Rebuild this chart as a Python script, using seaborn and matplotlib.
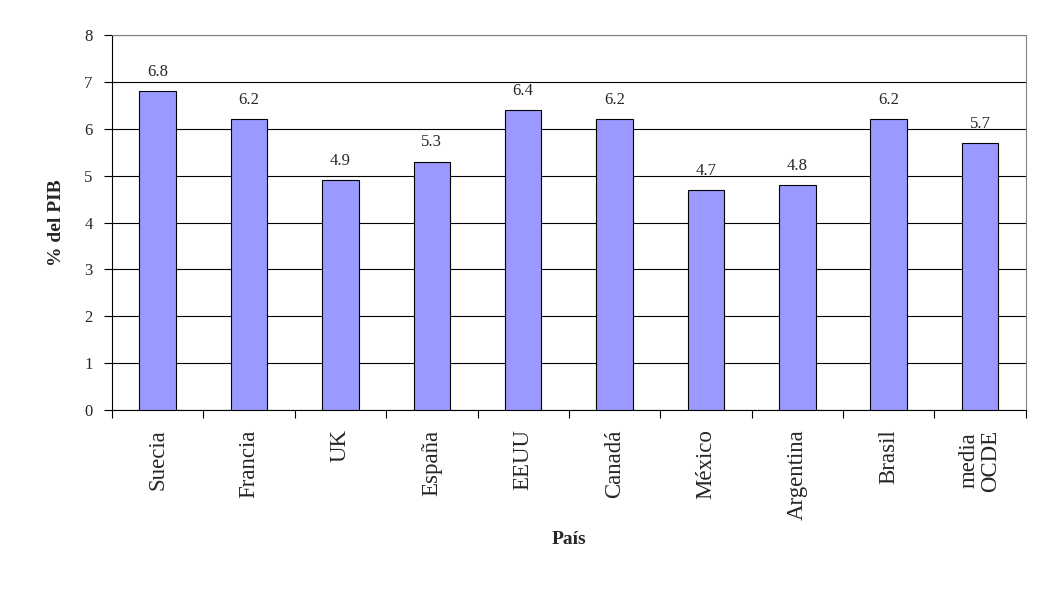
import pandas as pd
import matplotlib.pyplot as plt
import seaborn as sns
from matplotlib.ticker import FixedLocator

# Datos del gráfico
paises = ["Suecia", "Francia", "UK", "España", "EEUU", "Canadá",
          "México", "Argentina", "Brasil", "media\nOCDE"]
gasto_pib = [6.8, 6.2, 4.9, 5.3, 6.4, 6.2, 4.7, 4.8, 6.2, 5.7]

sns.set_style("white")
plt.rcParams["font.family"] = ["Liberation Serif", "DejaVu Serif"]

df = pd.DataFrame({"pais": paises, "pib": gasto_pib})

fig = plt.figure(figsize=(10.49, 6.07), dpi=100)
ax = fig.add_axes([0.1068, 0.3245, 0.8710, 0.6178])

sns.barplot(data=df, x="pais", y="pib", color="#9999FF", saturation=1,
            edgecolor="black", linewidth=0.8, width=0.4, ax=ax, zorder=3)

ax.bar_label(ax.containers[0], fmt="%.1f", padding=8, fontsize=12)

ax.set_ylim(0, 8)
ax.set_xlim(-0.5, len(paises) - 0.5)
ax.set_yticks(range(0, 9))
ax.yaxis.grid(True, color="black", linewidth=0.8, zorder=0)
ax.set_axisbelow(True)

# marcas del eje x entre categorías
ax.xaxis.set_minor_locator(FixedLocator([i - 0.5 for i in range(len(paises) + 1)]))
ax.tick_params(axis="x", which="major", length=0, pad=14)
ax.tick_params(axis="x", which="minor", length=6, width=0.8, color="black", direction="out", bottom=True)
ax.tick_params(axis="y", length=6, width=0.8, color="black", direction="out", left=True, pad=8)
ax.set_xticks(range(len(paises)))
ax.set_xticklabels(paises, rotation=90, fontsize=16.5, va="top", ha="center",
                   linespacing=1.05)
ax.tick_params(axis="y", labelsize=12)

for s in ["left", "bottom"]:
    ax.spines[s].set_color("black")
    ax.spines[s].set_linewidth(0.8)
for s in ["top", "right"]:
    ax.spines[s].set_color("#808080")
    ax.spines[s].set_linewidth(0.8)

ax.set_xlabel("País", fontsize=14, fontweight="bold", labelpad=8)
ax.set_ylabel("% del PIB", fontsize=14, fontweight="bold", labelpad=14)

fig.savefig("out.png", dpi=100)
